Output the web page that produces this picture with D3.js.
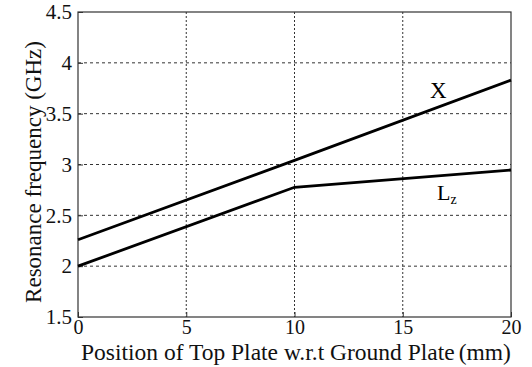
<!DOCTYPE html>
<html><head><meta charset="utf-8">
<script src="https://cdn.jsdelivr.net/npm/d3@7"></script>
<style>body{margin:0;background:#fff} text{font-family:"Liberation Serif","Times New Roman",serif}</style>
</head><body>
<svg id="c" width="532" height="367"></svg>
<script>
const xTicks = [0, 5, 10, 15, 20];
const yTicks = [1.5, 2, 2.5, 3, 3.5, 4, 4.5];
const positions = [0, 10, 20];
const seriesX = [2.26, 3.04, 3.83];
const seriesLz = [2.0, 2.776, 2.946];

const svg = d3.select("#c");
const L = 78, R = 511, T = 12, B = 317;
const x = d3.scaleLinear().domain([0, 20]).range([L, R]);
const y = d3.scaleLinear().domain([1.5, 4.5]).range([B, T]);
const font = '"Liberation Serif", "Times New Roman", serif';

// grid
const g = svg.append("g");
g.selectAll(".gx").data(xTicks.slice(1, -1)).enter().append("line")
  .attr("x1", d => x(d)).attr("x2", d => x(d)).attr("y1", T).attr("y2", B)
  .attr("stroke", "#333").attr("stroke-width", 1).attr("stroke-dasharray", "2,2");
g.selectAll(".gy").data(yTicks.slice(1, -1)).enter().append("line")
  .attr("x1", L).attr("x2", R).attr("y1", d => y(d)).attr("y2", d => y(d))
  .attr("stroke", "#333").attr("stroke-width", 1).attr("stroke-dasharray", "3,3");

// axes
const ax = svg.append("g").attr("transform", `translate(0,${B})`)
  .call(d3.axisBottom(x).tickValues(xTicks).tickSize(-5).tickPadding(3).tickFormat(d3.format("d")));
const ay = svg.append("g").attr("transform", `translate(${L},0)`)
  .call(d3.axisLeft(y).tickValues(yTicks).tickSize(-5).tickPadding(6).tickFormat(d => String(d)));
[ax, ay].forEach(a => {
  a.attr("font-family", null).attr("font-size", null);
  a.select(".domain").remove();
  a.selectAll("line").attr("stroke", "#333");
  a.selectAll("text").style("font-family", font).style("font-size", "21px").attr("fill", "#111");
});
ax.selectAll("text").style("font-size", "20px");
ay.selectAll("text").attr("dy", "0.32em");
svg.append("rect").attr("x", L).attr("y", T).attr("width", R - L).attr("height", B - T)
  .attr("fill", "none").attr("stroke", "#333").attr("stroke-width", 1.2);

// lines
const line = d3.line().x((d, i) => x(positions[i])).y(d => y(d));
[seriesX, seriesLz].forEach(s => {
  svg.append("path").datum(s).attr("d", line).attr("fill", "none")
    .attr("stroke", "#000").attr("stroke-width", 2.8);
});

// labels
svg.append("text").attr("x", 430).attr("y", 98).style("font-family", font)
  .style("font-size", "23px").text("X");
const lz = svg.append("text").attr("x", 437).attr("y", 200).style("font-family", font)
  .style("font-size", "22px");
lz.append("tspan").text("L");
lz.append("tspan").style("font-size", "14px").attr("dy", 4).text("z");

const xl = svg.append("text").attr("x", 81).attr("y", 360)
  .style("font-family", font).style("font-size", "23.5px").attr("fill", "#111");
xl.append("tspan").text("Position of Top Plate w.r.t Ground Plate");
xl.append("tspan").attr("dx", 4).text("(mm)");
svg.append("text").attr("transform", `translate(41,${172}) rotate(-90)`)
  .attr("text-anchor", "middle").style("font-family", font).style("font-size", "23px").attr("fill", "#111")
  .text("Resonance frequency (GHz)");
</script>
</body></html>
